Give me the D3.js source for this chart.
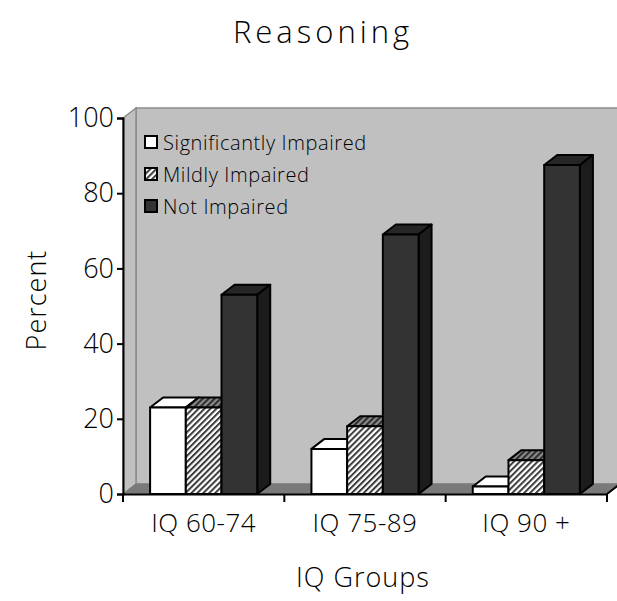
<!DOCTYPE html>
<html>
<head>
<meta charset="utf-8">
<script src="https://cdn.jsdelivr.net/npm/d3@7"></script>
<style>
  html, body { margin: 0; padding: 0; background: #fff; }
  svg { display: block; }
  text { font-family: "Open Sans", "DejaVu Sans", sans-serif; font-weight: 300; fill: #000; }
</style>
</head>
<body>
<svg id="chart" width="617" height="601"></svg>
<script>
// ---- data ----
const categories = ["IQ 60-74", "IQ 75-89", "IQ 90 +"];
const seriesNames = ["Significantly Impaired", "Mildly Impaired", "Not Impaired"];
const significantlyImpaired = [23, 12, 2];
const mildlyImpaired = [23, 18, 9];
const notImpaired = [53, 69, 87.5];
const yTicks = [0, 20, 40, 60, 80, 100];
const titleText = "Reasoning";
const xTitle = "IQ Groups";
const yTitle = "Percent";

const seriesValues = [significantlyImpaired, mildlyImpaired, notImpaired];

(function () {
const svg = d3.select("#chart");
const defs = svg.append("defs");

function hatch(id, bg, fg) {
  const p = defs.append("pattern")
    .attr("id", id).attr("patternUnits", "userSpaceOnUse")
    .attr("width", 4.2).attr("height", 4.2)
    .attr("patternTransform", "rotate(45)");
  p.append("rect").attr("width", 4.2).attr("height", 4.2).attr("fill", bg);
  p.append("rect").attr("width", 2).attr("height", 4.2).attr("fill", fg);
}
hatch("hatchFront", "#ffffff", "#3a3a3a");
hatch("hatchTop", "#8a8a8a", "#2a2a2a");

const styles = [
  { front: "#ffffff", top: "#ffffff", side: "#ffffff" },
  { front: "url(#hatchFront)", top: "url(#hatchTop)", side: "url(#hatchTop)" },
  { front: "#333333", top: "#262626", side: "#1c1c1c" }
];

// ---- scales ----
const pLeft = 123, pRight = 607, pTop = 118, pBottom = 494;
const dx = 13, dy = -10;

const x = d3.scaleBand().domain(categories).range([pLeft, pRight]).paddingInner(0).paddingOuter(0);
const xs = d3.scaleBand().domain(seriesNames)
  .range([x.bandwidth() * 0.168, x.bandwidth() * 0.832]).padding(0);
const y = d3.scaleLinear().domain([0, 100]).range([pBottom, pTop]);

// ---- walls ----
const wallG = svg.append("g");
wallG.append("polygon")
  .attr("points", [[pLeft + dx, pTop + dy], [pRight + dx + 20, pTop + dy], [pRight + dx + 20, pBottom + dy], [pLeft + dx, pBottom + dy]].join(" "))
  .attr("fill", "#c0c0c0").attr("stroke", "#8c8c8c").attr("stroke-width", 1.5);
wallG.append("polygon")
  .attr("points", [[pLeft, pTop], [pLeft + dx, pTop + dy], [pLeft + dx, pBottom + dy], [pLeft, pBottom]].join(" "))
  .attr("fill", "#c0c0c0").attr("stroke", "#8c8c8c").attr("stroke-width", 1.5);
wallG.append("polygon")
  .attr("points", [[pLeft, pBottom], [pRight, pBottom], [pRight + dx, pBottom + dy], [pLeft + dx, pBottom + dy]].join(" "))
  .attr("fill", "#7a7a7a").attr("stroke", "#7a7a7a").attr("stroke-width", 1);
wallG.append("line")
  .attr("x1", pRight).attr("y1", pBottom).attr("x2", pRight + dx).attr("y2", pBottom + dy)
  .attr("stroke", "#000").attr("stroke-width", 2);

// ---- bars ----
const barsG = svg.append("g");
categories.forEach((cat, ci) => {
  seriesNames.forEach((s, si) => {
    const v = seriesValues[si][ci];
    const x0 = x(cat) + xs(s);
    const w = xs.bandwidth();
    const yt = y(v), y0 = y(0);
    const st = styles[si];
    const g = barsG.append("g")
      .attr("stroke", "#000").attr("stroke-width", 2).attr("stroke-linejoin", "round");
    g.append("polygon")
      .attr("points", [[x0, yt], [x0 + dx, yt + dy], [x0 + w + dx, yt + dy], [x0 + w, yt]].join(" "))
      .attr("fill", st.top);
    g.append("polygon")
      .attr("points", [[x0 + w, yt], [x0 + w + dx, yt + dy], [x0 + w + dx, y0 + dy], [x0 + w, y0]].join(" "))
      .attr("fill", st.side);
    g.append("rect")
      .attr("x", x0).attr("y", yt).attr("width", w).attr("height", y0 - yt)
      .attr("fill", st.front);
  });
});

// ---- axes ----
const yAxis = d3.axisLeft(y).tickValues(yTicks).tickSize(6).tickPadding(3);
const yG = svg.append("g").attr("transform", `translate(${pLeft},0)`).attr("color", "#000").call(yAxis);
yG.select(".domain").attr("stroke", "#000").attr("stroke-width", 2);
yG.selectAll(".tick line").attr("stroke", "#000").attr("stroke-width", 2);
yG.selectAll(".tick text")
  .style("font-family", '"Open Sans", "DejaVu Sans", sans-serif')
  .style("font-weight", 300)
  .style("font-size", "27px").attr("fill", "#000");

const xAxis = d3.axisBottom(x).tickSize(0).tickPadding(20);
const xG = svg.append("g").attr("transform", `translate(0,${pBottom})`).attr("color", "#000").call(xAxis);
xG.select(".domain").attr("stroke", "#000").attr("stroke-width", 2);
xG.selectAll(".tick text")
  .style("font-family", '"Open Sans", "DejaVu Sans", sans-serif')
  .style("font-weight", 300)
  .style("font-size", "26px").style("letter-spacing", "0.5px").attr("fill", "#000");
const bounds = categories.map(c => x(c)).concat([x(categories[categories.length - 1]) + x.bandwidth()]);
xG.selectAll(".btick").data(bounds).enter().append("line")
  .attr("x1", d => d).attr("x2", d => d).attr("y1", 0).attr("y2", 8)
  .attr("stroke", "#000").attr("stroke-width", 2);

// ---- titles ----
svg.append("text").attr("x", 323).attr("y", 43).attr("text-anchor", "middle")
  .style("font-size", "31px").style("letter-spacing", "4px").text(titleText);
svg.append("text").attr("x", 363).attr("y", 587).attr("text-anchor", "middle")
  .style("font-size", "27px").style("letter-spacing", "1px").text(xTitle);
svg.append("text").attr("transform", "translate(46,300) rotate(-90)").attr("text-anchor", "middle")
  .style("font-size", "27px").style("letter-spacing", "1px").text(yTitle);

// ---- legend ----
const legend = svg.append("g").attr("transform", "translate(144,136)");
seriesNames.forEach((s, i) => {
  const row = legend.append("g").attr("transform", `translate(0,${i * 32})`);
  row.append("rect").attr("x", 1).attr("y", 0).attr("width", 12).attr("height", 12)
    .attr("fill", styles[i].front).attr("stroke", "#000").attr("stroke-width", 2);
  row.append("text").attr("x", 19).attr("y", 6).attr("dominant-baseline", "central")
    .style("font-size", "20px").style("letter-spacing", "0.6px").text(s);
});
})();
</script>
</body>
</html>
